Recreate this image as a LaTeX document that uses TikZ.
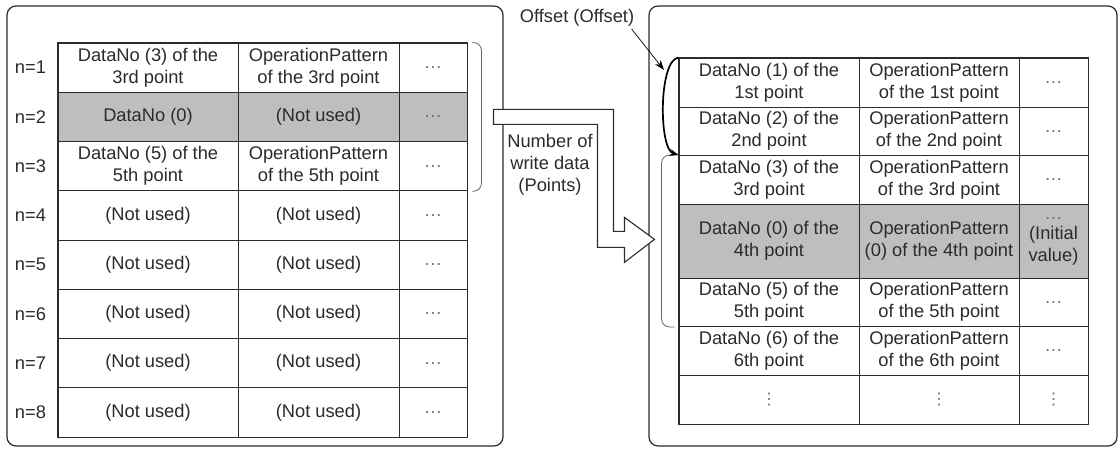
\documentclass[tikz,border=0pt]{standalone}
\usepackage{fontspec}
\setmainfont{Liberation Sans}
\newfontfamily\symfont{DejaVu Sans}
\usepackage{tikz}
\usetikzlibrary{arrows.meta, positioning, calc}
\definecolor{rowgray}{HTML}{BDBEC0}
\definecolor{inkgray}{HTML}{2B2B2B}
\definecolor{dotgray}{HTML}{6E6E6E}
\tikzset{
  cell/.style={draw=inkgray, line width=0.9pt, inner sep=0pt, align=center, text=inkgray},
  panel/.style={draw=inkgray, line width=1.2pt, rounded corners=9pt},
  bracketline/.style={draw=black!60, line width=0.8pt, rounded corners=8pt},
  blockarrow/.style={draw=inkgray, fill=white, line width=1.1pt, line join=miter},
}
\newcommand{\dotcell}{{\color{dotgray}\dots}}
\newcommand{\vdotcell}{{\color{dotgray}\symfont\fontsize{16}{18}\selectfont ⋮}}

\begin{document}
\begin{tikzpicture}[x=1pt, y=-1pt, font=\fontsize{18.3}{22}\selectfont]
  \useasboundingbox (0,0) rectangle (1119,448);
  \draw[panel] (7,6) rectangle (503,446);
  \draw[panel] (649,6) rectangle (1117,446);

  % left table
  \foreach \i/\a/\b/\f in {1/{DataNo (3) of the\\3rd point}/{OperationPattern\\of the 3rd point}/white,
      2/{DataNo (0)}/{(Not used)}/rowgray,
      3/{DataNo (5) of the\\5th point}/{OperationPattern\\of the 5th point}/white,
      4/{(Not used)}/{(Not used)}/white, 5/{(Not used)}/{(Not used)}/white,
      6/{(Not used)}/{(Not used)}/white, 7/{(Not used)}/{(Not used)}/white,
      8/{(Not used)}/{(Not used)}/white} {
    \node[cell, fill=\f, minimum width=180pt, minimum height=49.25pt] (La\i) at (148, 43+49.25*\i-24.625) {\a};
    \node[cell, fill=\f, minimum width=161pt, minimum height=49.25pt] (Lb\i) at (318.5, 43+49.25*\i-24.625) {\b};
    \node[cell, fill=\f, minimum width=68pt, minimum height=49.25pt] (Lc\i) at (433, 43+49.25*\i-24.625) {\dotcell};
    \node[text=inkgray, left=8pt of La\i] (Ln\i) {n=\i};
  }
  \draw[inkgray, line width=1.6pt] (La1.north west) rectangle (Lc8.south east);

  % right table
  \foreach \i/\y/\h/\a/\b/\c/\f in {
      1/82.5/49/{DataNo (1) of the\\1st point}/{OperationPattern\\of the 1st point}/{\dotcell}/white,
      2/131.25/48.5/{DataNo (2) of the\\2nd point}/{OperationPattern\\of the 2nd point}/{\dotcell}/white,
      3/179.75/48.5/{DataNo (3) of the\\3rd point}/{OperationPattern\\of the 3rd point}/{\dotcell}/white,
      4/241/74/{DataNo (0) of the\\4th point}/{OperationPattern\\(0) of the 4th point}/{\dotcell\\[-2pt](Initial\\value)}/rowgray,
      5/302.25/48.5/{DataNo (5) of the\\5th point}/{OperationPattern\\of the 5th point}/{\dotcell}/white,
      6/350.75/48.5/{DataNo (6) of the\\6th point}/{OperationPattern\\of the 6th point}/{\dotcell}/white,
      7/399.5/49/{\vdotcell}/{\vdotcell}/{\vdotcell}/white} {
    \node[cell, fill=\f, minimum width=180pt, minimum height=\h pt] (Ra\i) at (769, \y) {\a};
    \node[cell, fill=\f, minimum width=160pt, minimum height=\h pt] (Rb\i) at (939, \y) {\b};
    \node[cell, fill=\f, minimum width=69pt, minimum height=\h pt] (Rc\i) at (1053.5, \y) {\c};
  }
  \draw[inkgray, line width=1.6pt] (Ra1.north west) rectangle (Rc7.south east);

  % brackets
  \draw[bracketline] ([xshift=5pt]Lc1.north east) -- ([xshift=14pt]Lc1.north east)
    -- ([xshift=14pt]Lc3.south east) -- ([xshift=5pt]Lc3.south east);
  \draw[bracketline] ([xshift=-4pt]Ra3.north west) -- ([xshift=-17pt]Ra3.north west)
    -- ([xshift=-17pt]Ra5.south west) -- ([xshift=-4pt]Ra5.south west);

  % offset
  \node[text=inkgray] (off) at (577,18) {Offset (Offset)};
  \coordinate (offtip) at (664,70);
  \draw[black, line width=1.7pt, -{Stealth[length=9pt,width=7pt]}] (Ra1.north west)
    .. controls +(-20,2) and +(-20,-6) .. (Ra3.north west);
  \draw[black, line width=0.7pt, -{Stealth[length=10pt,width=7pt]}] ([xshift=-6pt,yshift=1pt]off.south east) -- (offtip);

  % write data arrow
  \coordinate (wtail) at ($(Lc2.east)+(26,0)$);
  \draw[blockarrow] ($(wtail)+(0,-7.5)$) -- ++(120,0) -- ++(0,122) -- ++(11,0) -- ++(0,-14)
    -- ++(30,22) -- ++(-30,23) -- ++(0,-15) -- ++(-27,0) -- ++(0,-123) -- ++(-104,0) -- cycle;
  \node[text=inkgray, align=center] (wlabel) at (550,165) {Number of\\write data\\(Points)};
\end{tikzpicture}
\end{document}
